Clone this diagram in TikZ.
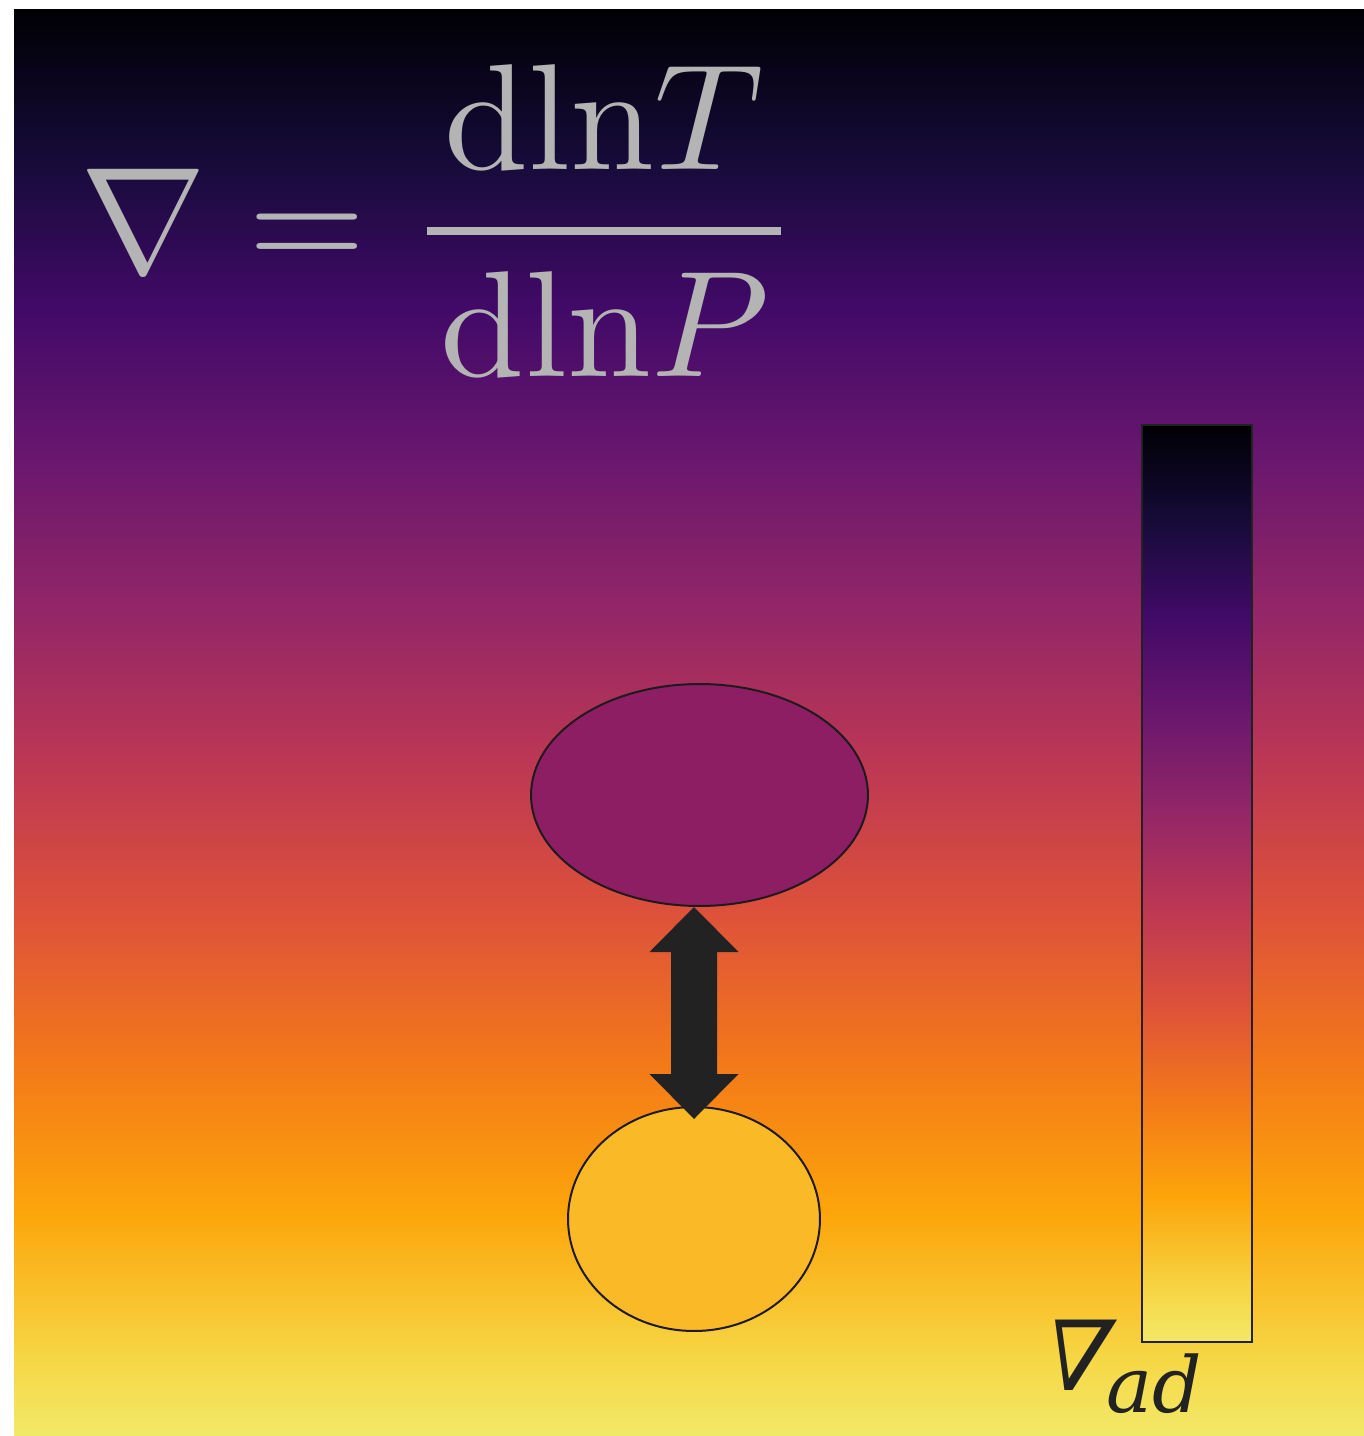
\documentclass[tikz,border=0pt]{standalone}
\usepackage{fontspec}
\newfontfamily\dvs{DejaVu Serif}
\newfontfamily\dvsl[FakeSlant=0.25]{DejaVu Serif}
\usetikzlibrary{shapes.geometric}
\definecolor{infA}{RGB}{0,0,4}
\definecolor{infB}{RGB}{22,11,57}
\definecolor{infC}{RGB}{66,10,104}
\definecolor{infD}{RGB}{106,23,110}
\definecolor{infE}{RGB}{147,38,103}
\definecolor{infF}{RGB}{188,55,84}
\definecolor{infG}{RGB}{221,81,58}
\definecolor{infH}{RGB}{243,120,25}
\definecolor{infI}{RGB}{252,165,10}
\definecolor{infJ}{RGB}{246,215,70}
\definecolor{infK}{RGB}{242,233,105}
\definecolor{fgray}{RGB}{180,180,180}
\definecolor{darkc}{RGB}{34,34,34}
\definecolor{edgec}{RGB}{30,26,30}
\definecolor{parcelup}{RGB}{142,30,100}
\definecolor{parceldown}{RGB}{250,186,40}
\pgfdeclareverticalshading{inferno}{100bp}{color(0bp)=(infK); color(25bp)=(infK); color(27.632bp)=(infJ); color(32.895bp)=(infI); color(38.158bp)=(infH); color(43.421bp)=(infG); color(48.684bp)=(infF); color(53.947bp)=(infE); color(59.211bp)=(infD); color(64.474bp)=(infC); color(69.737bp)=(infB); color(75bp)=(infA); color(100bp)=(infA)}
\tikzset{
  formula/.style={text=fgray, inner sep=0pt, scale=8.6},
  fracbar/.style={draw=fgray, line width=0.16cm},
  parcel/.style={ellipse, draw=edgec, line width=0.04cm, inner sep=0pt},
  dblarrow/.style={fill=darkc},
  cbar/.style={shading=inferno, draw=darkc, line width=0.05cm},
  lab/.style={text=darkc, inner sep=0pt}
}
\begin{document}
\begin{tikzpicture}[x=0.02cm,y=-0.02cm]
\useasboundingbox (0,0) rectangle (1364,1436);
\fill[white] (0,0) rectangle (1364,1436);
\shade[shading=inferno] (14,10) rectangle (1364,1436);
% formula
\node[formula, anchor=base] (nabla) at (143,273) {$\nabla$};
\node[formula, anchor=base] (eq) at (307,269) {$=$};
\node[formula, anchor=base] (num) at (604,170) {$\mathrm{dln}T$};
\node[formula, anchor=base] (den) at (605,376) {$\mathrm{dln}P$};
\coordinate (barL) at (427,231);
\coordinate (barR) at (781,231);
\draw[fracbar] (barL) -- (barR);
% parcels
\node[parcel, fill=parcelup, minimum width=6.74cm, minimum height=4.44cm] (ell) at (699.5,795) {};
\node[parcel, fill=parceldown, minimum width=5.04cm, minimum height=4.48cm] (circ) at (694,1219) {};
% double arrow
\coordinate (atop) at (694,907);
\fill[dblarrow] (atop) -- ++(44.5,45) -- ++(-21.5,0) -- ++(0,122) -- ++(21.5,0)
  -- ++(-44.5,45) -- ++(-44.5,-45) -- ++(21.5,0) -- ++(0,-122) -- ++(-21.5,0) -- cycle;
% colour bar
\shadedraw[cbar] (1142,425) rectangle (1252,1342);
\node[lab, anchor=base west, font=\dvsl\fontsize{55}{60}\selectfont] (nab) at (1035,1390) {∇};
\node[lab, anchor=base west, font=\dvs\itshape\fontsize{44}{48}\selectfont] (sub) at (1106,1412) {ad};
\end{tikzpicture}
\end{document}
